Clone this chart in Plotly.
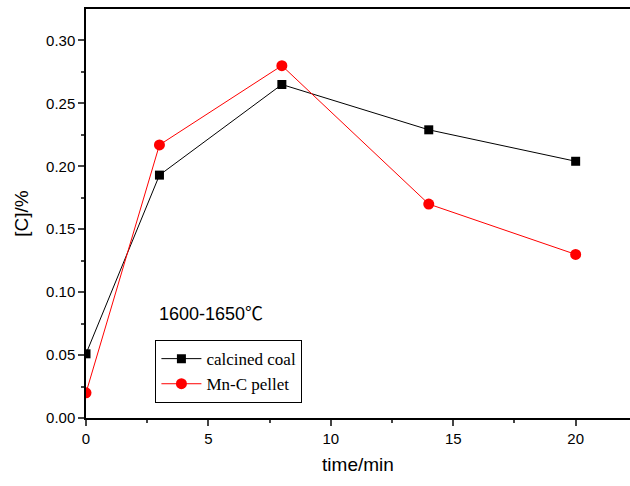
import plotly.graph_objects as go

time_min = [0, 3, 8, 14, 20]
calcined_coal = [0.051, 0.193, 0.265, 0.229, 0.204]
mnc_pellet = [0.020, 0.217, 0.280, 0.170, 0.130]

fig = go.Figure()
fig.add_trace(go.Scatter(x=time_min, y=calcined_coal, mode="lines+markers", name="calcined coal",
                         line=dict(color="black", width=1),
                         marker=dict(symbol="square", size=9, color="black")))
fig.add_trace(go.Scatter(x=time_min, y=mnc_pellet, mode="lines+markers", name="Mn-C pellet",
                         line=dict(color="#ff0000", width=1),
                         marker=dict(symbol="circle", size=11, color="#ff0000")))

fig.add_annotation(x=0.13, y=0.259, xref="paper", yref="paper",
                   text="1600-1650<span style=\"font-family:Noto Sans CJK SC\">\u2103</span>",
                   showarrow=False, xanchor="left", yanchor="middle",
                   font=dict(family="Liberation Sans, Arial", size=18, color="black"))

fig.update_layout(
    width=630, height=486,
    margin=dict(l=85.5, r=0, t=8.5, b=68),
    paper_bgcolor="white", plot_bgcolor="white",
    font=dict(family="Liberation Sans, Arial", size=15, color="black"),
    showlegend=True,
    legend=dict(x=0.1276, y=0.1905, xanchor="left", yanchor="top",
                bordercolor="black", borderwidth=1, bgcolor="white",
                font=dict(family="Liberation Serif, Times New Roman", size=17, color="black"),
                itemwidth=40, tracegroupgap=0),
    xaxis=dict(range=[0, 22.22], tickvals=[0, 5, 10, 15, 20], showline=True, linecolor="black",
               linewidth=1.5, mirror=True, ticks="outside", ticklen=6, tickwidth=1.5,
               showgrid=False, zeroline=False,
               minor=dict(tickvals=[2.5, 7.5, 12.5, 17.5], ticks="outside", ticklen=3, tickwidth=1.5),
               title=dict(text="time/min", font=dict(size=19), standoff=12)),
    yaxis=dict(range=[0, 0.325], tickvals=[0, 0.05, 0.1, 0.15, 0.2, 0.25, 0.3], tickformat=".2f",
               showline=True, linecolor="black", linewidth=1.5, ticks="outside", ticklen=6,
               tickwidth=1.5, showgrid=False, zeroline=False,
               minor=dict(tickvals=[0.025, 0.075, 0.125, 0.175, 0.225, 0.275], ticks="outside",
                          ticklen=3, tickwidth=1.5),
               title=dict(text="[C]/%", font=dict(size=19), standoff=12)),
)

fig.write_html("out.html")
